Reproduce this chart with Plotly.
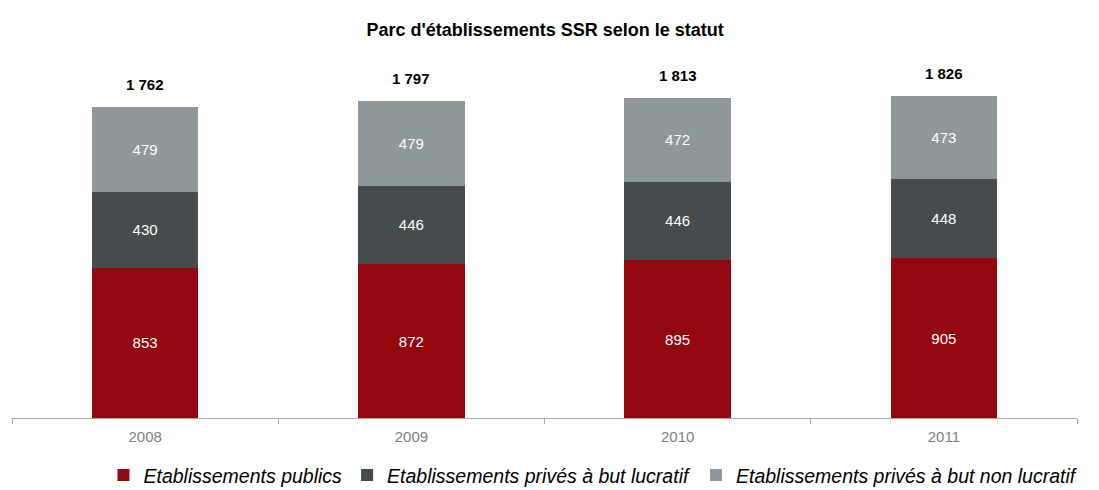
import plotly.graph_objects as go

years = ["2008", "2009", "2010", "2011"]
publics = [853, 872, 895, 905]
prives_lucratif = [430, 446, 446, 448]
prives_non_lucratif = [479, 479, 472, 473]
totals = [1762, 1797, 1813, 1826]
total_labels = ["1 762", "1 797", "1 813", "1 826"]

series = [
    ("Etablissements publics", publics, "#940810"),
    ("Etablissements privés à but lucratif", prives_lucratif, "#464b4e"),
    ("Etablissements privés à but non lucratif", prives_non_lucratif, "#8f979b"),
]

FONT = "Liberation Sans, Arial"

fig = go.Figure()
for name, vals, col in series:
    fig.add_trace(go.Bar(
        x=years, y=vals, name=name, marker=dict(color=col, line=dict(width=0)),
        text=[str(v) for v in vals], textposition="inside", insidetextanchor="middle",
        textfont=dict(color="white", size=15, family=FONT),
        width=0.4,
    ))

for i, (t, lab) in enumerate(zip(totals, total_labels)):
    fig.add_annotation(x=i, y=t, text="<b>" + lab + "</b>", showarrow=False,
                       yanchor="bottom", yshift=12,
                       font=dict(size=15, color="black", family=FONT))

fig.update_layout(
    barmode="stack",
    width=1099, height=490,
    margin=dict(l=12, r=22, t=60, b=72, autoexpand=False),
    paper_bgcolor="white", plot_bgcolor="white",
    title=dict(text="<b>Parc d'établissements SSR selon le statut</b>", x=0.496, xanchor="center",
               y=0.94, yanchor="middle",
               font=dict(size=18, color="black", family=FONT)),
    showlegend=True,
    legend=dict(orientation="h", x=0.546, xanchor="center", yref="container", y=0.03, yanchor="middle",
                font=dict(size=19.5, color="black", family=FONT, style="italic"),
                traceorder="normal", itemwidth=30, tracegroupgap=0),
)
fig.update_xaxes(type="category", range=[-0.5, 3.5], showline=True, linecolor="#a6a6a6", linewidth=1,
                 ticks="outside", tickson="boundaries", ticklen=5, tickcolor="#a6a6a6",
                 ticklabelstandoff=5,
                 tickfont=dict(size=15, color="#7f7f7f", family=FONT),
                 showgrid=False)
fig.update_yaxes(range=[0, 2030], visible=False, showgrid=False)

fig.write_html("out.html", config={"displayModeBar": False},
               post_script="document.body.style.margin='0';")
